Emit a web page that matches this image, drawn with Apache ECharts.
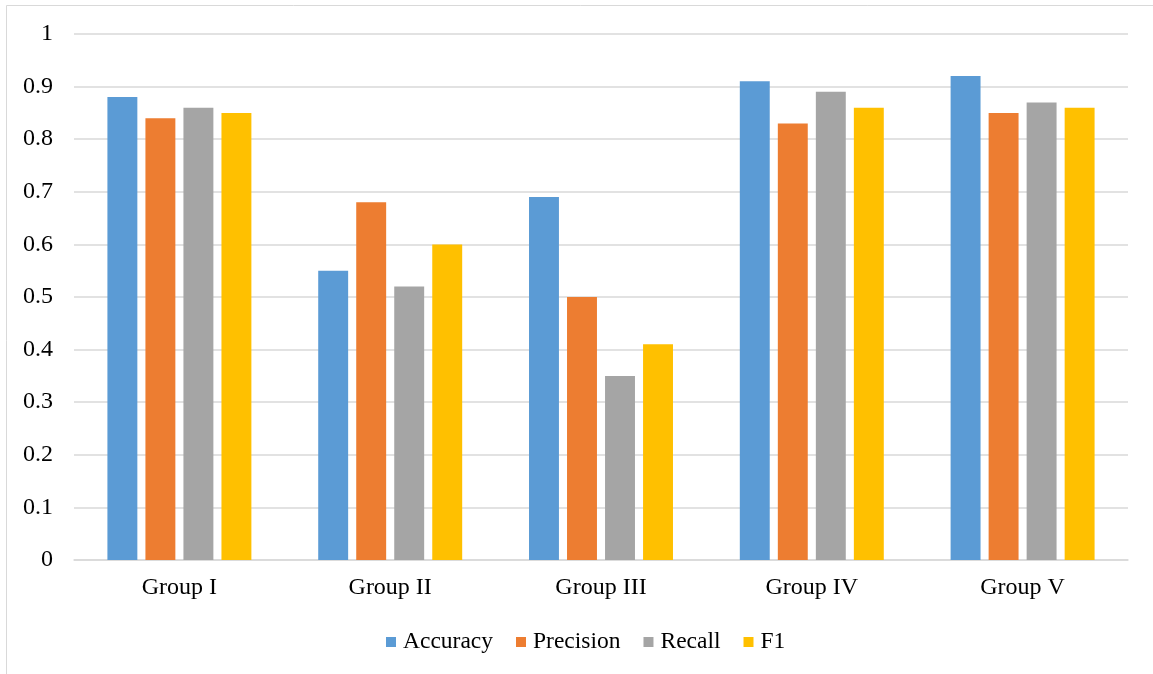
<!DOCTYPE html>
<html>
<head>
<meta charset="utf-8">
<script src="https://cdn.jsdelivr.net/npm/echarts@6/dist/echarts.min.js"></script>
<style>
  html, body { margin: 0; padding: 0; background: #ffffff; }
  #chart { width: 1153px; height: 674px; }
</style>
</head>
<body>
<div id="chart"></div>
<script>
// Classification metrics per group
const groups = ['Group I', 'Group II', 'Group III', 'Group IV', 'Group V'];
const accuracy  = [0.88, 0.55, 0.69, 0.91, 0.92];
const precision = [0.84, 0.68, 0.50, 0.83, 0.85];
const recall    = [0.86, 0.52, 0.35, 0.89, 0.87];
const f1        = [0.85, 0.60, 0.41, 0.86, 0.86];
const yTicks = { min: 0, max: 1, step: 0.1 };

const seriesDefs = [
  { name: 'Accuracy',  data: accuracy,  color: '#5B9BD5' },
  { name: 'Precision', data: precision, color: '#ED7D31' },
  { name: 'Recall',    data: recall,    color: '#A5A5A5' },
  { name: 'F1',        data: f1,        color: '#FFC000' }
];

const font = '"Liberation Serif", "Times New Roman", serif';
const chart = echarts.init(document.getElementById('chart'), null, { renderer: 'canvas' });

chart.setOption({
  animation: false,
  backgroundColor: '#ffffff',
  textStyle: { fontFamily: font },
  graphic: [{
    type: 'rect',
    shape: { x: 6.5, y: 5.5, width: 1170, height: 700 },
    style: { fill: 'none', stroke: '#d9d9d9', lineWidth: 1 },
    silent: true
  }],
  grid: { left: 74, right: 25, top: 34, bottom: 114, containLabel: false },
  legend: {
    top: 625,
    left: 381,
    itemWidth: 10,
    itemHeight: 10,
    itemGap: 23,
    icon: 'rect',
    textStyle: { fontFamily: font, fontSize: 23.5, color: '#000000', padding: [0, 0, 0, 2] },
    data: seriesDefs.map(s => s.name)
  },
  xAxis: {
    type: 'category',
    data: groups,
    axisLine: { show: true, lineStyle: { color: '#d9d9d9', width: 1.5 } },
    axisTick: { show: false },
    axisLabel: { fontFamily: font, fontSize: 24, color: '#000000', margin: 16 }
  },
  yAxis: {
    type: 'value',
    min: yTicks.min,
    max: yTicks.max,
    interval: yTicks.step,
    axisLine: { show: false },
    axisTick: { show: false },
    splitLine: { lineStyle: { color: '#d9d9d9', width: 1.5 } },
    axisLabel: { fontFamily: font, fontSize: 24, color: '#000000', margin: 21 }
  },
  series: seriesDefs.map(s => ({
    name: s.name,
    type: 'bar',
    data: s.data,
    barGap: '27%',
    barCategoryGap: '31.7%',
    itemStyle: { color: s.color }
  }))
});
</script>
</body>
</html>
